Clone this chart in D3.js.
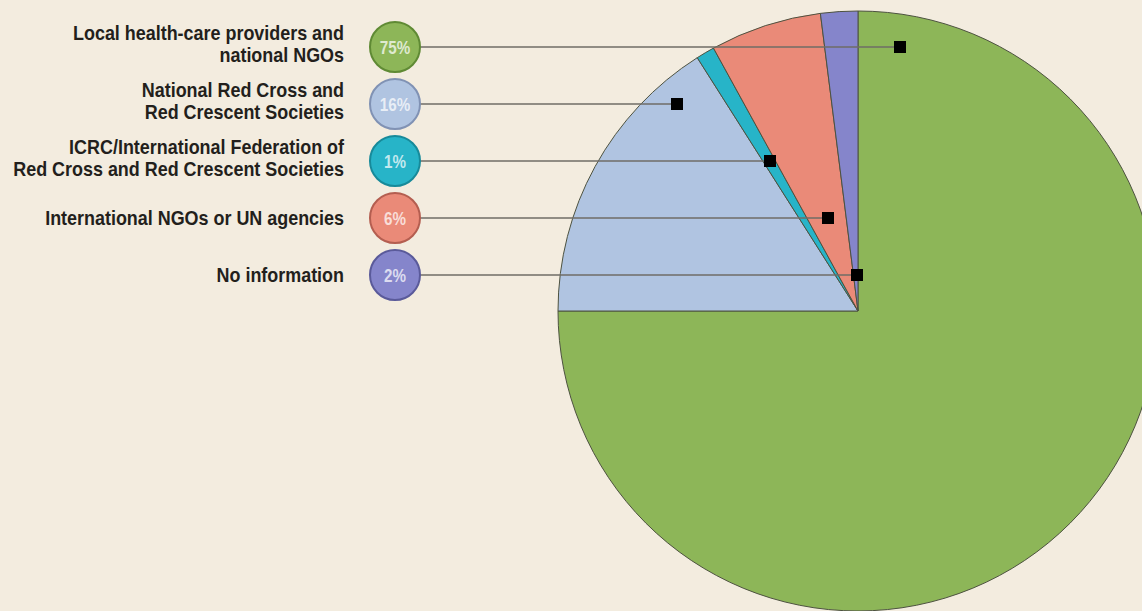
<!DOCTYPE html>
<html>
<head>
<meta charset="utf-8">
<script src="https://cdn.jsdelivr.net/npm/d3@7"></script>
<style>
  html, body { margin: 0; padding: 0; background: #f3ecdf; }
  svg { display: block; }
</style>
</head>
<body>
<svg id="chart"></svg>
<script>
// data
const categories = [
  'Local health-care providers and national NGOs',
  'National Red Cross and Red Crescent Societies',
  'ICRC/International Federation of Red Cross and Red Crescent Societies',
  'International NGOs or UN agencies',
  'No information'
];
const labelLines = [
  ['Local health-care providers and', 'national NGOs'],
  ['National Red Cross and', 'Red Crescent Societies'],
  ['ICRC/International Federation of', 'Red Cross and Red Crescent Societies'],
  ['International NGOs or UN agencies'],
  ['No information']
];
const shares = [75, 16, 1, 6, 2];
const pctLabels = ['75%', '16%', '1%', '6%', '2%'];

const fills = ['#8db658', '#b0c4e1', '#27b4c8', '#ea8a78', '#8585cb'];
const strokes = ['#5f8a34', '#8092b4', '#178a9a', '#b45e50', '#5a5a9a'];

const width = 1142, height = 611;
const cx = 858, cy = 311, radius = 300;
// where each callout line ends, relative to the pie centre
const calloutDx = [42, -181, -88, -30, -1];
const fontFam = '"Liberation Sans", Arial, sans-serif';

const svg = d3.select('#chart')
  .attr('width', width)
  .attr('height', height);

svg.append('rect')
  .attr('width', width)
  .attr('height', height)
  .attr('fill', '#f3ecdf');

let pie = d3.pie().sort(null).value(d => d)(shares);
let arc = d3.arc().innerRadius(0).outerRadius(radius);

svg.append('g')
  .attr('transform', `translate(${cx},${cy})`)
  .selectAll('path')
  .data(pie)
  .enter()
  .append('path')
  .attr('d', arc)
  .attr('fill', (d, i) => fills[i])
  .attr('stroke', '#4d5240')
  .attr('stroke-width', 1)
  .attr('stroke-linejoin', 'round');

let rowY = d3.scalePoint()
  .domain(categories)
  .range([47, 275]);

let circleX = 395, circleR = 25;

// callout lines + markers
let callouts = svg.append('g');
categories.forEach((c, i) => {
  let y = rowY(c);
  callouts.append('line')
    .attr('x1', circleX + circleR)
    .attr('x2', cx + calloutDx[i])
    .attr('y1', y)
    .attr('y2', y)
    .attr('stroke', '#6f6c66')
    .attr('stroke-width', 1.6);
  callouts.append('rect')
    .attr('x', cx + calloutDx[i] - 6)
    .attr('y', y - 6)
    .attr('width', 12)
    .attr('height', 12)
    .attr('fill', '#000');
});

// legend
let legend = svg.append('g')
  .selectAll('g')
  .data(categories)
  .enter()
  .append('g')
  .attr('transform', d => `translate(0,${rowY(d)})`);

legend.append('circle')
  .attr('cx', circleX)
  .attr('cy', 0)
  .attr('r', circleR)
  .attr('fill', (d, i) => fills[i])
  .attr('stroke', (d, i) => strokes[i])
  .attr('stroke-width', 2);

legend.append('text')
  .attr('class', 'pct')
  .attr('transform', `translate(${circleX},7) scale(0.8,1)`)
  .attr('text-anchor', 'middle')
  .attr('font-family', fontFam)
  .attr('font-weight', 'bold')
  .attr('font-size', 19)
  .attr('fill', '#fff')
  .attr('fill-opacity', 0.72)
  .text((d, i) => pctLabels[i]);

legend.each(function (d, i) {
  let lines = labelLines[i];
  let t = d3.select(this).append('text')
    .attr('class', 'lbl')
    .attr('text-anchor', 'end')
    .attr('font-family', fontFam)
    .attr('font-weight', 'bold')
    .attr('font-size', 20.5)
    .attr('fill', '#231f1c');
  let first = lines.length > 1 ? -7 : 7;
  lines.forEach((l, j) => {
    t.append('tspan')
      .attr('x', 0)
      .attr('y', first + j * 22)
      .text(l);
  });
});

// condensed look: squeeze labels so "International NGOs or UN agencies" is ~299px like the original
let probe = legend.filter((d, i) => i === 3).select('text.lbl').node();
let sx = 299 / probe.getComputedTextLength();
legend.selectAll('text.lbl')
  .attr('transform', `translate(344,0) scale(${sx},1)`);
</script>
</body>
</html>
